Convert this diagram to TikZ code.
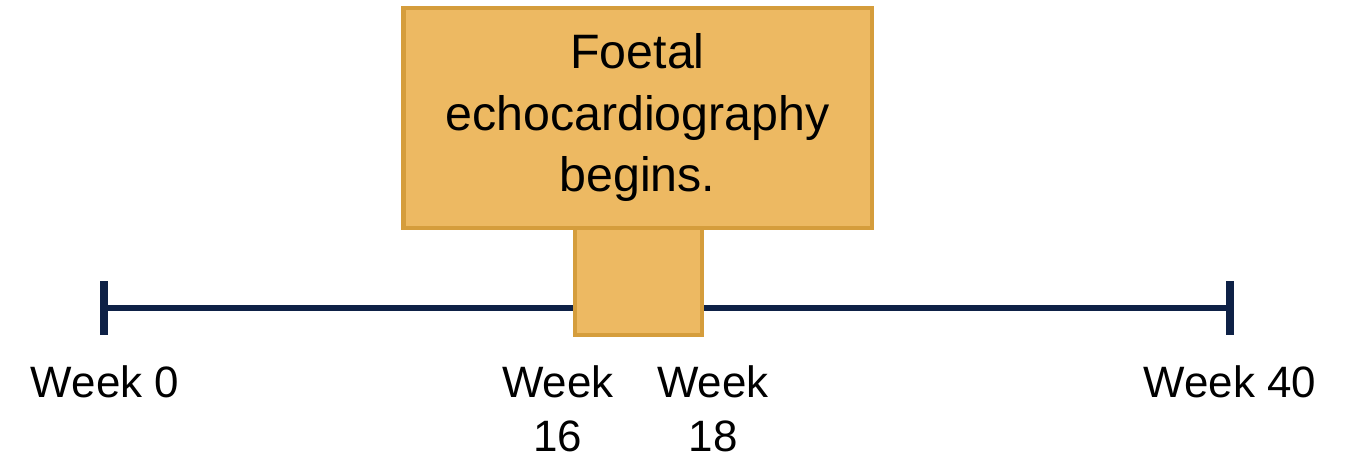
\documentclass[tikz,border=0pt]{standalone}
\usepackage{fontspec}
\setmainfont{Liberation Sans}
\usepackage{tikz}
\definecolor{signfill}{RGB}{237,185,98}
\definecolor{signedge}{RGB}{213,157,60}
\definecolor{navy}{RGB}{14,33,70}

\begin{document}
\begin{tikzpicture}[
    x=0.02cm, y=0.02cm,
    bigbox/.style={draw=signedge, fill=signfill, line width=2.8pt, align=center, inner sep=0pt, minimum width=9.38cm, minimum height=4.4cm, font=\fontsize{27.5}{35}\selectfont},
    stem/.style={draw=signedge, fill=signfill, line width=2.2pt, inner sep=0pt, minimum width=2.54cm, minimum height=2.14cm},
    tline/.style={draw=navy, line width=3.4pt},
    tick/.style={draw=navy, line width=4.5pt},
    weeklabel/.style={align=center, inner sep=0pt, font=\fontsize{25}{31}\selectfont}
]
\useasboundingbox (0,0) rectangle (1359,462);
\coordinate (start) at (104,154);
\coordinate (stop) at (1230,154);
\draw[tline] (start) -- (stop);
\draw[tick] (104,127) -- (104,181);
\draw[tick] (1230,127) -- (1230,181);
\node[stem] (post) at (638.5,180.5) {};
\node[bigbox] (sign) at (637.5,344) {Foetal\\echocardiography\\begins.};
\node[weeklabel] (w0) at (105,80) {Week 0};
\node[weeklabel] (w16) at (558,53) {Week\\16};
\node[weeklabel] (w18) at (713,53) {Week\\18};
\node[weeklabel] (w40) at (1230,80) {Week 40};
\end{tikzpicture}
\end{document}
